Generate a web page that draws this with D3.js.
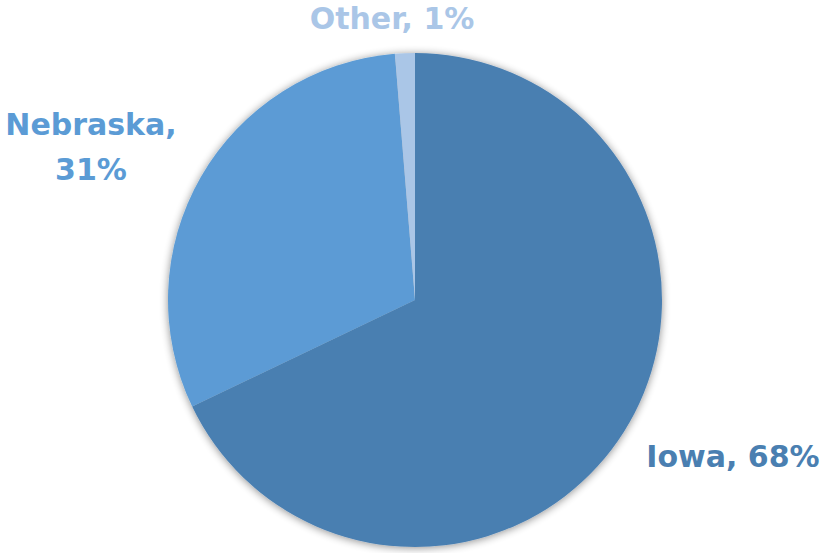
<!DOCTYPE html>
<html>
<head>
<meta charset="utf-8">
<script src="https://cdn.jsdelivr.net/npm/d3@7/dist/d3.min.js"></script>
<style>
  html, body { margin: 0; padding: 0; background: #fff; }
  svg { display: block; }
  text { font-family: "DejaVu Sans", sans-serif; font-weight: bold; }
</style>
</head>
<body>
<svg id="chart" width="823" height="553"></svg>
<script>
// Data
const categories = ["Iowa", "Nebraska", "Other"];
const shares = [67.9, 30.8, 1.3];
const colors = ["#4a7fb1", "#5b9bd5", "#aac6e7"];

// Layout
const W = 823, H = 553;
const cx = 415, cy = 300, R = 247;
const labelLayout = {
  Iowa:     { x: 733, y: 467, lines: 1 },
  Nebraska: { x: 91,  y: 135, lines: 2 },
  Other:    { x: 392, y: 29,  lines: 1 }
};

const svg = d3.select("#chart");
const defs = svg.append("defs");
const f = defs.append("filter").attr("id", "shadow")
  .attr("x", "-10%").attr("y", "-10%").attr("width", "120%").attr("height", "120%");
f.append("feGaussianBlur").attr("in", "SourceAlpha").attr("stdDeviation", 4).attr("result", "b");
f.append("feOffset").attr("in", "b").attr("dx", 0).attr("dy", 1).attr("result", "o");
f.append("feComponentTransfer").attr("in", "o").attr("result", "s")
  .append("feFuncA").attr("type", "linear").attr("slope", 0.45);
const m = f.append("feMerge");
m.append("feMergeNode").attr("in", "s");
m.append("feMergeNode").attr("in", "SourceGraphic");

const data = categories.map((c, i) => ({ name: c, value: shares[i], color: colors[i] }));
const pie = d3.pie().sort(null).value(d => d.value);
const arc = d3.arc().innerRadius(0).outerRadius(R);

const g = svg.append("g").attr("transform", `translate(${cx},${cy})`)
  .attr("filter", "url(#shadow)");
g.selectAll("path").data(pie(data)).join("path")
  .attr("d", arc)
  .attr("fill", d => d.data.color);

const fmt = d => `${Math.round(d.value)}%`;
data.forEach(d => {
  const L = labelLayout[d.name];
  const t = svg.append("text")
    .attr("text-anchor", "middle")
    .attr("font-size", 30)
    .attr("fill", d.color);
  if (L.lines === 2) {
    t.append("tspan").attr("x", L.x).attr("y", L.y).text(`${d.name},`);
    t.append("tspan").attr("x", L.x).attr("y", L.y + 45).text(fmt(d));
  } else {
    t.attr("x", L.x).attr("y", L.y).text(`${d.name}, ${fmt(d)}`);
  }
});
</script>
</body>
</html>
